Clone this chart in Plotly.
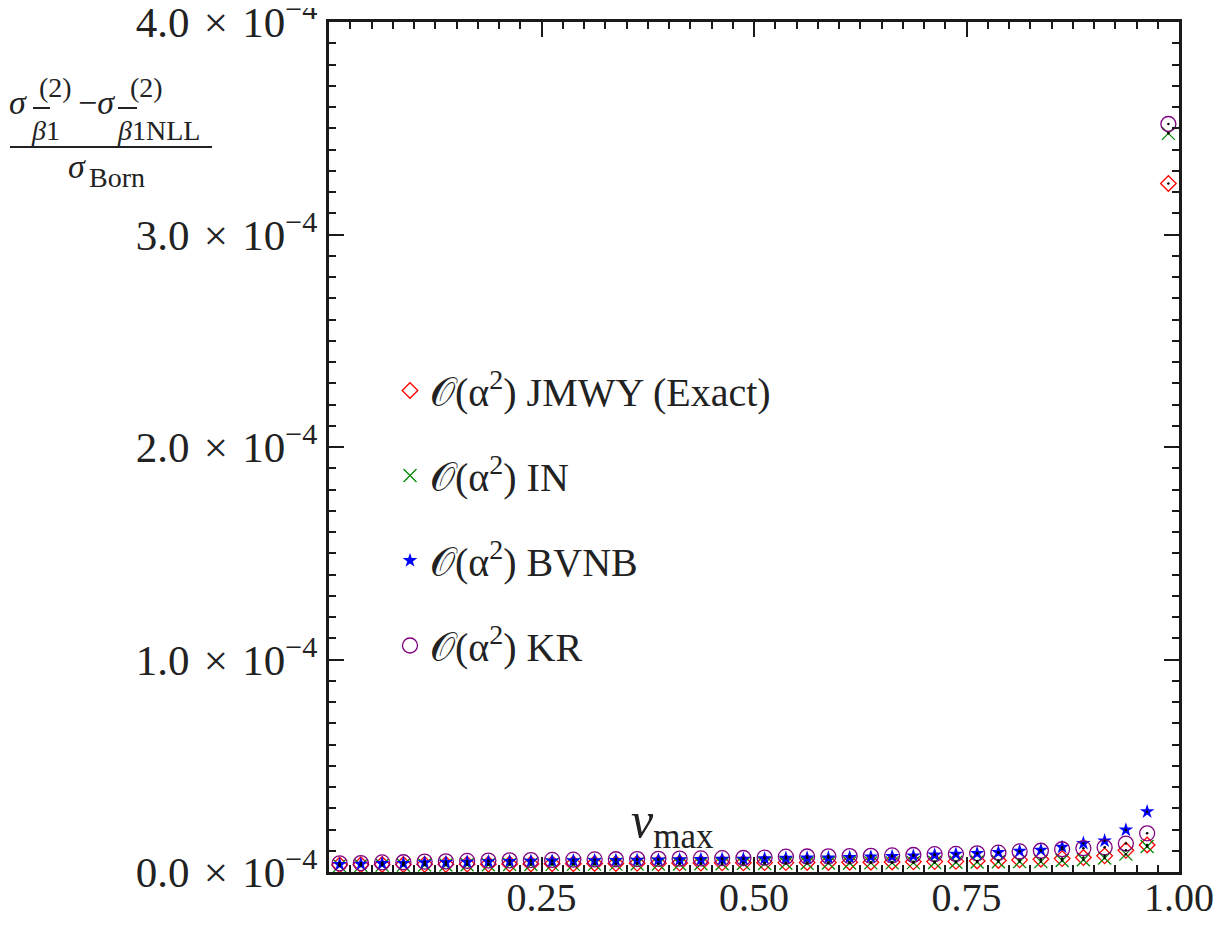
import plotly.graph_objects as go

# x positions (v_max)
v_max = [0.0125, 0.0375, 0.0625, 0.0875, 0.1125, 0.1375, 0.1625, 0.1875, 0.2125, 0.2375,
         0.2625, 0.2875, 0.3125, 0.3375, 0.3625, 0.3875, 0.4125, 0.4375, 0.4625, 0.4875,
         0.5125, 0.5375, 0.5625, 0.5875, 0.6125, 0.6375, 0.6625, 0.6875, 0.7125, 0.7375,
         0.7625, 0.7875, 0.8125, 0.8375, 0.8625, 0.8875, 0.9125, 0.9375, 0.9625, 0.9875]

# values in units of 1e-5
jmwy = [0.33, 0.34, 0.35, 0.35, 0.36, 0.36, 0.37, 0.37, 0.38, 0.38,
        0.39, 0.39, 0.40, 0.40, 0.41, 0.41, 0.42, 0.42, 0.43, 0.43,
        0.44, 0.44, 0.45, 0.45, 0.46, 0.46, 0.47, 0.48, 0.49, 0.50,
        0.52, 0.54, 0.57, 0.60, 0.63, 0.68, 0.76, 1.02, 1.27, 32.4]
in_ = [0.30, 0.31, 0.32, 0.32, 0.33, 0.33, 0.34, 0.34, 0.35, 0.35,
       0.36, 0.36, 0.37, 0.37, 0.38, 0.38, 0.38, 0.39, 0.39, 0.40,
       0.40, 0.41, 0.41, 0.42, 0.42, 0.43, 0.43, 0.44, 0.45, 0.46,
       0.47, 0.48, 0.49, 0.49, 0.54, 0.58, 0.66, 0.84, 1.20, 34.76]
bvnb = [0.36, 0.37, 0.40, 0.41, 0.44, 0.45, 0.47, 0.49, 0.50, 0.51,
        0.52, 0.53, 0.54, 0.55, 0.56, 0.57, 0.58, 0.59, 0.60, 0.61,
        0.63, 0.65, 0.66, 0.67, 0.69, 0.71, 0.73, 0.76, 0.80, 0.84,
        0.88, 0.92, 0.98, 1.03, 1.17, 1.35, 1.47, 1.98, 2.84, None]
kr = [0.41, 0.42, 0.45, 0.46, 0.49, 0.50, 0.52, 0.54, 0.55, 0.56,
      0.57, 0.58, 0.59, 0.60, 0.61, 0.62, 0.63, 0.64, 0.65, 0.66,
      0.68, 0.72, 0.73, 0.74, 0.75, 0.76, 0.78, 0.80, 0.84, 0.85,
      0.88, 0.91, 0.97, 1.00, 1.07, 1.12, 1.16, 1.34, 1.82, 35.2]

y_tickvals = [0, 1e-4, 2e-4, 3e-4, 4e-4]
y_ticktext = ["0.0\u2004×\u200410<sup>−4</sup>", "1.0\u2004×\u200410<sup>−4</sup>",
              "2.0\u2004×\u200410<sup>−4</sup>", "3.0\u2004×\u200410<sup>−4</sup>",
              "4.0\u2004×\u200410<sup>−4</sup>"]
x_tickvals = [0.25, 0.50, 0.75, 1.00]
x_ticktext = ["0.25", "0.50", "0.75", "1.00"]

FONT = "Liberation Serif"
TXT = "#222222"

def scale(vals):
    return [None if v is None else v * 1e-5 for v in vals]

series = [
    ("𝒪(α<sup>2</sup>) JMWY (Exact)", jmwy, "diamond-open", "#ff0000", 12, 1.3),
    ("𝒪(α<sup>2</sup>) IN", in_, "x-thin-open", "#008a00", 13, 1.3),
    ("𝒪(α<sup>2</sup>) BVNB", bvnb, "star", "#0000ff", 11, 0),
    ("𝒪(α<sup>2</sup>) KR", kr, "circle-open", "#800080", 15, 1.3),
]

fig = go.Figure()
for i, (name, vals, sym, col, size, lw) in enumerate(series):
    fig.add_trace(go.Scatter(
        x=v_max, y=scale(vals), mode="markers", name=name,
        legendgroup=f"g{i}",
        marker=dict(symbol=sym, color=col, size=size, line=dict(color=col, width=lw)),
    ))
for i, (name, vals, sym, col, size, lw) in enumerate(series):
    fig.add_trace(go.Scatter(
        x=v_max, y=scale(vals), mode="markers", showlegend=False, hoverinfo="skip",
        marker=dict(symbol="circle", color="black", size=2.5),
    ))

# page pixel geometry (the page body has an 8px margin)
OFF = 8
PAGE_W, PAGE_H = 1222, 928
W, H = PAGE_W - 2 * OFF, PAGE_H - 2 * OFF
L, R, T, B = 329, 1179, 22, 872

def px(x):
    return (x - L) / (R - L)

def py(y):
    return (B - y) / (B - T)

anns = []
def ann(text, x, y, size, xanchor="left", yanchor="middle"):
    anns.append(dict(text=text, x=px(x), y=py(y), xref="paper", yref="paper",
                     showarrow=False, xanchor=xanchor, yanchor=yanchor,
                     font=dict(family=FONT, size=size, color=TXT)))

# y-axis label as a fraction
ann("<i>σ</i>", 7, 102, 34)
ann("(2)", 37, 88, 28)
ann("<i>β</i>1", 29, 130, 28)
ann("−<i>σ</i>", 76, 102, 34)
ann("(2)", 128, 88, 28)
ann("<i>β</i>1NLL", 115, 130, 28)
ann("<i>σ</i>", 66, 167, 34)
ann("Born", 87, 177, 28)

# x-axis title
ann("<i>v</i><sub>max</sub>", 672, 824, 50, xanchor="center")

shapes = [
    dict(type="line", xref="paper", yref="paper", x0=px(10), x1=px(212), y0=py(147), y1=py(147),
         line=dict(color=TXT, width=2)),
    dict(type="line", xref="paper", yref="paper", x0=px(33), x1=px(50), y0=py(108), y1=py(108),
         line=dict(color=TXT, width=2)),
    dict(type="line", xref="paper", yref="paper", x0=px(118), x1=px(137), y0=py(108), y1=py(108),
         line=dict(color=TXT, width=2)),
]

axis_common = dict(
    showline=True, linecolor="#1a1a1a", linewidth=3, mirror="ticks",
    ticks="inside", ticklen=15, tickwidth=2, tickcolor="#1a1a1a",
    showgrid=False, zeroline=False, automargin=False,
    ticklabeloverflow="allow",
)

fig.update_layout(
    width=W, height=H,
    margin=dict(l=L - OFF, r=OFF + W - R, t=T - OFF, b=OFF + H - B, autoexpand=False),
    plot_bgcolor="white", paper_bgcolor="white",
    xaxis=dict(range=[0, 1], tickvals=x_tickvals, ticktext=x_ticktext,
               tickfont=dict(family=FONT, size=40, color=TXT), ticklabelstandoff=-12,
               minor=dict(ticks="inside", ticklen=7, tickwidth=1.5, tickcolor="#1a1a1a", dtick=0.025, showgrid=False),
               **axis_common),
    yaxis=dict(range=[0, 4e-4], tickvals=y_tickvals, ticktext=y_ticktext,
               tickfont=dict(family=FONT, size=43, color=TXT),
               minor=dict(ticks="inside", ticklen=7, tickwidth=1.5, tickcolor="#1a1a1a", dtick=1e-5, showgrid=False),
               **axis_common),
    legend=dict(x=px(390), y=py(358), xanchor="left", yanchor="top",
                bgcolor="rgba(0,0,0,0)", tracegroupgap=30,
                font=dict(family=FONT, size=40, color=TXT)),
    annotations=anns,
    shapes=shapes,
    showlegend=True,
)

fig.write_html("out.html")
